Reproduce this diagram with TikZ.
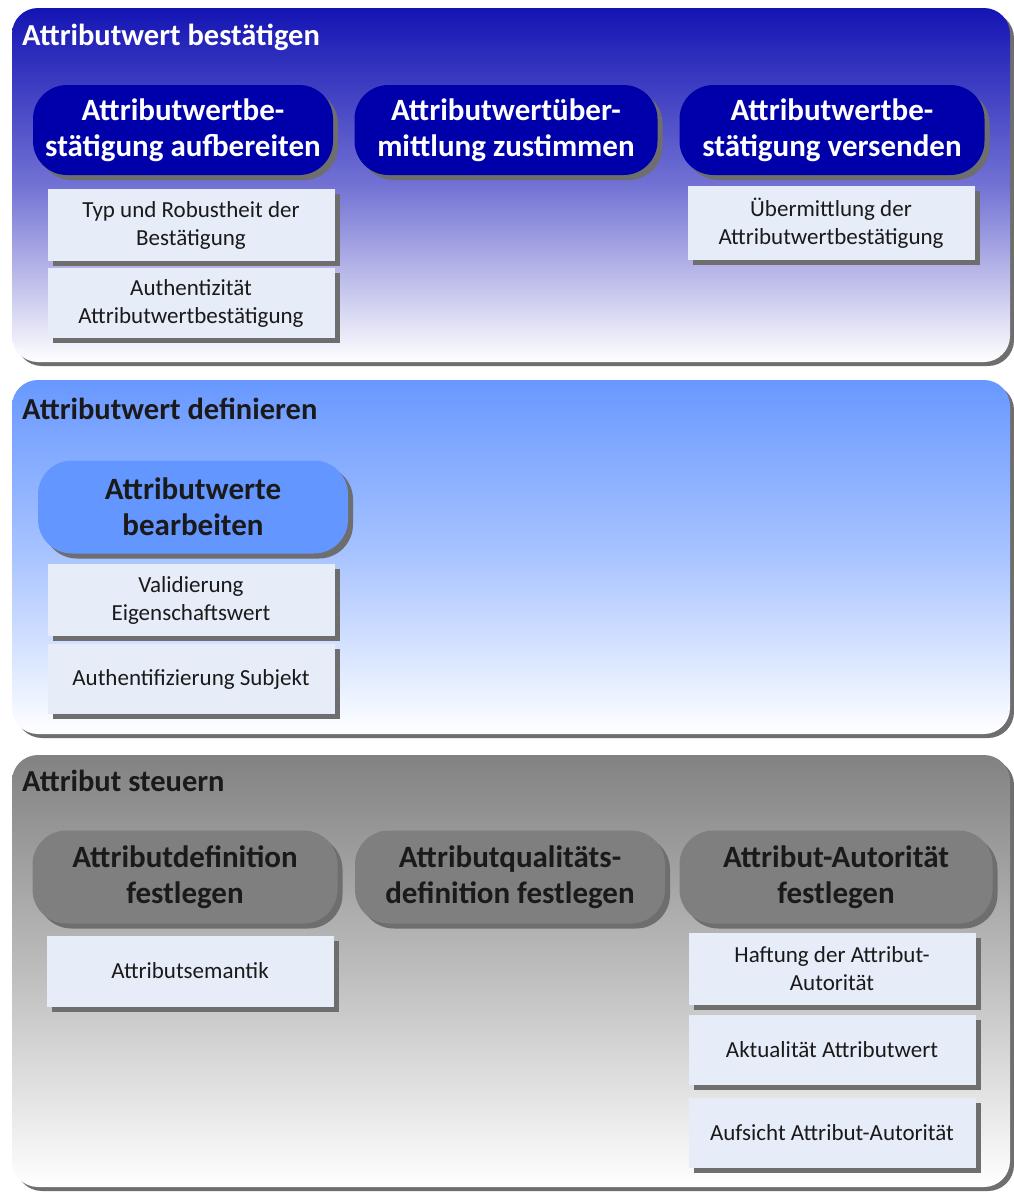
\documentclass[tikz,border=0pt]{standalone}
\usepackage{fontspec}
\setmainfont{Carlito}
\usetikzlibrary{shadows}
\definecolor{pOneTop}{HTML}{1414B4}
\definecolor{pOneMid}{HTML}{7272D4}
\definecolor{pTwoTop}{HTML}{6898FF}
\definecolor{pTwoMid}{HTML}{A9C4FF}
\definecolor{pThreeTop}{HTML}{828282}
\definecolor{pThreeMid}{HTML}{BDBDBD}
\definecolor{pillOne}{HTML}{0000AA}
\definecolor{pillTwo}{HTML}{6496FF}
\definecolor{pillThree}{HTML}{7F7F7F}
\definecolor{subfill}{HTML}{E6ECF8}
\definecolor{shadowc}{HTML}{6E6E6E}
\definecolor{txtdark}{HTML}{1A1A1A}
\tikzset{
  panelbox/.style={rounded corners=26pt, general shadow={fill=shadowc, shadow xshift=4pt, shadow yshift=-4pt}},
  titletxt/.style={anchor=west, font=\bfseries\fontsize{30.5}{34}\selectfont, inner sep=0pt},
  pill/.style={rounded corners=34pt, align=center, inner sep=0pt,
    font=\bfseries\fontsize{31}{36}\selectfont,
    general shadow={fill=shadowc, shadow xshift=5pt, shadow yshift=-5pt}},
  subbox/.style={fill=subfill, align=center, inner sep=0pt, minimum width=287pt,
    font=\fontsize{23}{28}\selectfont, text=txtdark,
    general shadow={fill=shadowc, shadow xshift=5pt, shadow yshift=-5pt}}
}
\begin{document}
\begin{tikzpicture}[x=1pt,y=-1pt]
\useasboundingbox (0,0) rectangle (1014,1192);
\fill[white] (0,0) rectangle (1014,1192);
% panels
\node[panelbox, minimum width=998pt, minimum height=354pt, top color=pOneTop, bottom color=white, middle color=pOneMid, inner sep=0pt] (p1) at (511,185) {};
\node[panelbox, minimum width=998pt, minimum height=354pt, top color=pTwoTop, bottom color=white, middle color=pTwoMid, inner sep=0pt] (p2) at (511,557) {};
\node[panelbox, minimum width=998pt, minimum height=432pt, top color=pThreeTop, bottom color=white, middle color=pThreeMid, inner sep=0pt] (p3) at (511,971) {};
\node[titletxt, text=white] (t1) at (22,37) {Attributwert bestätigen};
\node[titletxt, text=txtdark] (t2) at (22,409) {Attributwert definieren};
\node[titletxt, text=txtdark] (t3) at (22,781) {Attribut steuern};
% panel 1
\node[pill, fill=pillOne, text=white, minimum width=300pt, minimum height=90pt] (a1) at (183,130) {Attributwertbe-\\stätigung aufbereiten};
\node[pill, fill=pillOne, text=white, minimum width=303pt, minimum height=90pt] (a2) at (506,130) {Attributwertüber-\\mittlung zustimmen};
\node[pill, fill=pillOne, text=white, minimum width=305pt, minimum height=90pt] (a3) at (832,130) {Attributwertbe-\\stätigung versenden};
\node[subbox, minimum height=72pt] (b1) at (191,225) {Typ und Robustheit der\\Bestätigung};
\node[subbox, minimum height=70pt] (b2) at (191,303) {Authentizität\\Attributwertbestätigung};
\node[subbox, minimum height=74pt] (b3) at (831,223) {Übermittlung der\\Attributwertbestätigung};
% panel 2
\node[pill, fill=pillTwo, text=txtdark, minimum width=310pt, minimum height=93pt] (c1) at (193,507) {Attributwerte\\bearbeiten};
\node[subbox, minimum height=72pt] (d1) at (191,600) {Validierung\\Eigenschaftswert};
\node[subbox, minimum height=70pt] (d2) at (191,679) {Authentifizierung Subjekt};
% panel 3
\node[pill, fill=pillThree, text=txtdark, minimum width=305pt, minimum height=93pt] (e1) at (185,877) {Attributdefinition\\festlegen};
\node[pill, fill=pillThree, text=txtdark, minimum width=310pt, minimum height=93pt] (e2) at (510,877) {Attributqualitäts-\\definition festlegen};
\node[pill, fill=pillThree, text=txtdark, minimum width=313pt, minimum height=93pt] (e3) at (836,877) {Attribut-Autorität\\festlegen};
\node[subbox, minimum height=71pt] (f1) at (190,971) {Attributsemantik};
\node[subbox, minimum height=72pt] (g1) at (832,969) {Haftung der Attribut-\\Autorität};
\node[subbox, minimum height=70pt] (g2) at (832,1050) {Aktualität Attributwert};
\node[subbox, minimum height=70pt] (g3) at (832,1133) {Aufsicht Attribut-Autorität};
\end{tikzpicture}
\end{document}
